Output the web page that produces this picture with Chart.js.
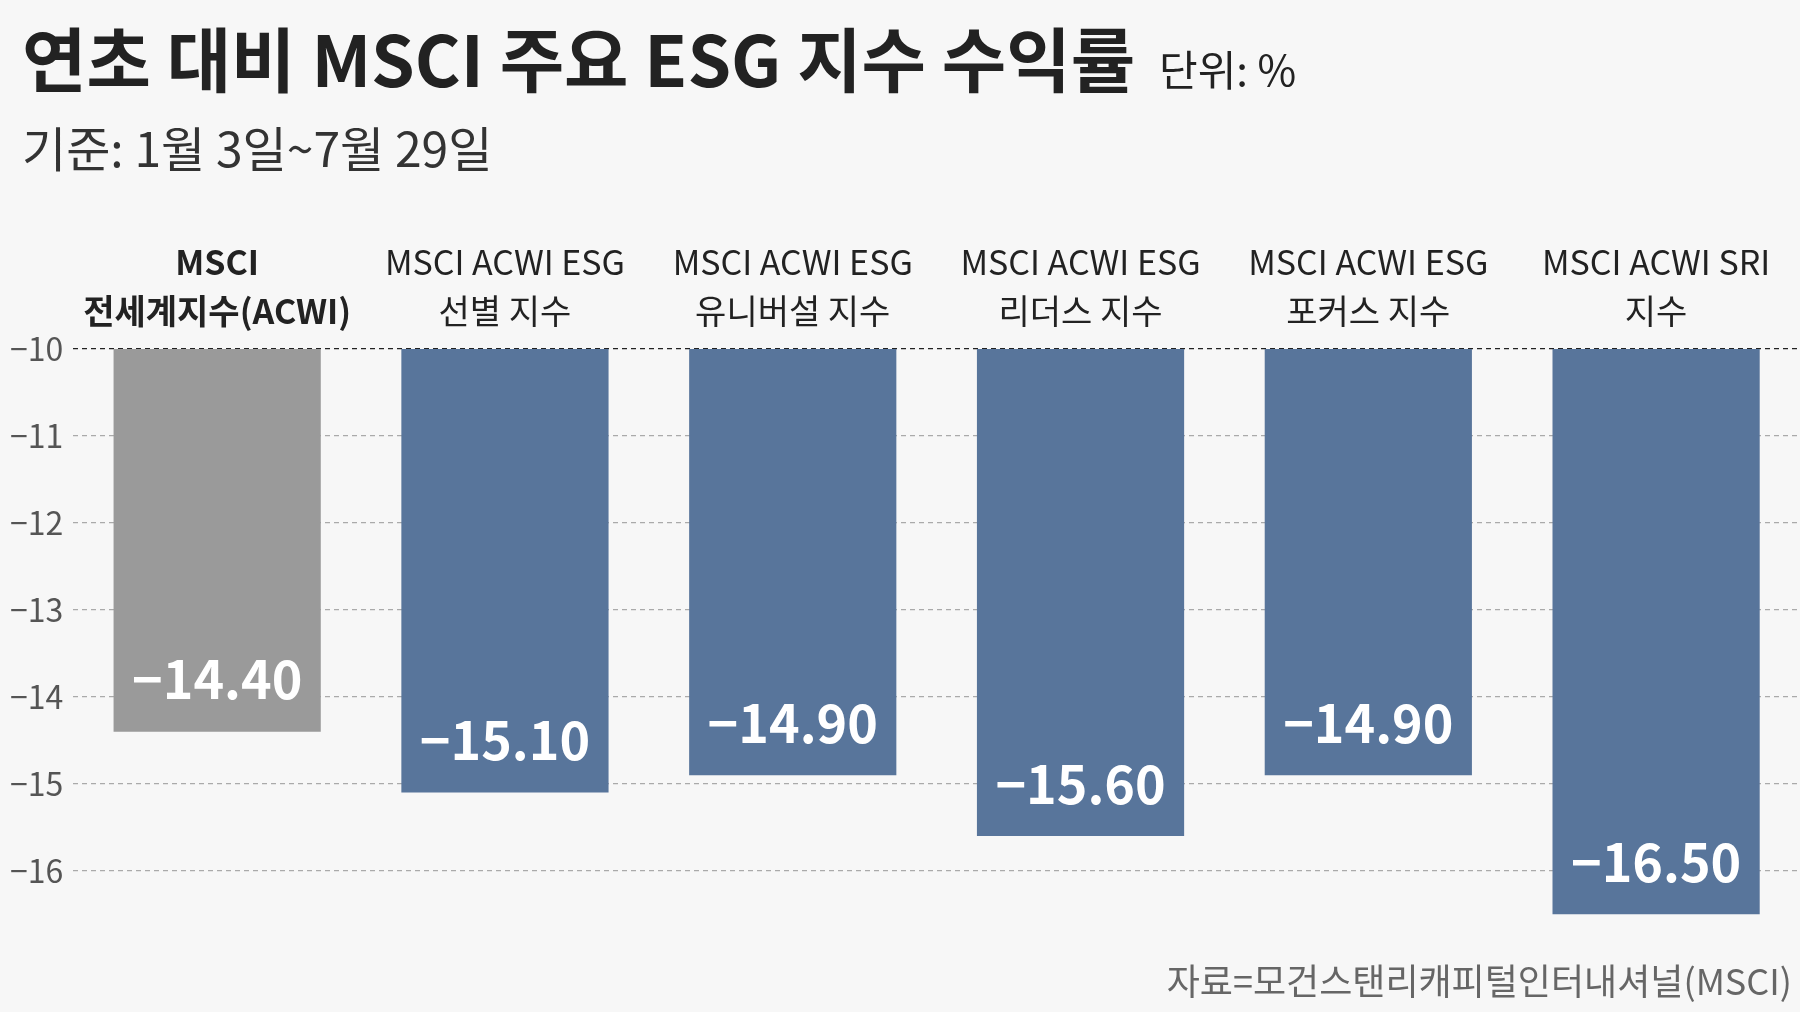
<!DOCTYPE html>
<html><head><meta charset="utf-8">
<script src="https://cdn.jsdelivr.net/npm/chart.js@4"></script>
<style>body{margin:0;background:#f7f7f7}canvas{display:block}</style>
</head><body>
<div style="width:1800px;height:1012px"><canvas id="c"></canvas></div>
<script>
const categories = [['MSCI','전세계지수(ACWI)'],['MSCI ACWI ESG','선별 지수'],['MSCI ACWI ESG','유니버설 지수'],['MSCI ACWI ESG','리더스 지수'],['MSCI ACWI ESG','포커스 지수'],['MSCI ACWI SRI','지수']];
const values = [-14.40, -15.10, -14.90, -15.60, -14.90, -16.50];
const colors = ['#9a9a9a','#58759b','#58759b','#58759b','#58759b','#58759b'];
const F = '"Noto Sans CJK KR", "Noto Sans", sans-serif';

const deco = {
  id: 'deco',
  beforeDraw(c) {
    const g = c.ctx;
    g.save();
    g.fillStyle = '#f7f7f7'; g.fillRect(0, 0, c.width, c.height);
    g.restore();
  },
  afterDraw(c) {
    const g = c.ctx, x = c.scales.x, y = c.scales.y;
    g.save();
    g.fillStyle = '#222'; g.textBaseline = 'middle';
    g.font = 'bold 70px ' + F; g.textAlign = 'left';
    g.fillText('연초 대비 MSCI 주요 ESG 지수 수익률', 22, 60);
    const w = g.measureText('연초 대비 MSCI 주요 ESG 지수 수익률').width;
    g.font = '42px ' + F; g.fillText('단위: %', 22 + w + 24, 70);
    g.font = '48px ' + F; g.fillStyle = '#333';
    g.fillText('기준: 1월 3일~7월 29일', 22, 149);
    g.textAlign = 'center';
    categories.forEach((l, i) => {
      const px = x.getPixelForValue(i);
      g.font = (i === 0 ? 'bold ' : '') + '34px ' + F; g.fillStyle = '#222';
      g.fillText(l[0], px, 262); g.fillText(l[1], px, 311);
      const py = y.getPixelForValue(values[i]);
      g.font = 'bold 52px ' + F; g.fillStyle = '#fff';
      g.fillText(values[i].toFixed(2).replace('-', '−'), px, py - 52);
    });
    g.textAlign = 'right'; g.font = '36px ' + F; g.fillStyle = '#666';
    g.fillText('자료=모건스탠리캐피털인터내셔널(MSCI)', 1792, 981);
    g.restore();
  }
};

new Chart(document.getElementById('c'), {
  type: 'bar',
  data: { labels: categories.map(l => l.join(' ')), datasets: [{ data: values.map(v => [-10, v]), backgroundColor: colors, categoryPercentage: 1, barPercentage: 0.72 }] },
  options: {
    responsive: true, maintainAspectRatio: false, animation: false,
    layout: { padding: { top: 349, bottom: 89, left: 0, right: 0 } },
    plugins: { legend: { display: false }, tooltip: { enabled: false } },
    scales: {
      x: { display: false },
      y: {
        min: -16.6, max: -10,
        afterBuildTicks: s => { s.ticks = [-16,-15,-14,-13,-12,-11,-10].map(v => ({ value: v })); },
        border: { display: false, dash: [5, 4] },
        grid: { color: t => t.tick && t.tick.value === -10 ? '#222' : '#aaa', drawTicks: false, lineWidth: 1.2 },
        ticks: { font: { size: 32, family: F }, color: '#555', padding: 10, callback: v => String(v).replace('-', '−') }
      }
    }
  },
  plugins: [deco]
});
</script>
</body></html>
